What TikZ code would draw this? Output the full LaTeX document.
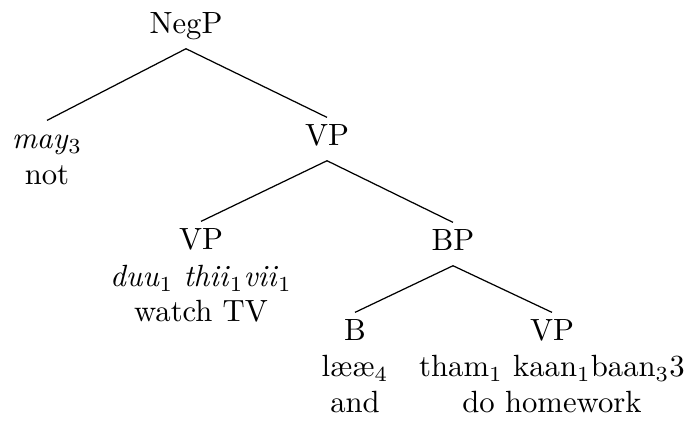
\documentclass[tikz,border=0pt]{standalone}
\begin{document}
\begin{tikzpicture}[x=0.3257pt,y=-0.3257pt,
  lab/.style={inner sep=0pt,text height=9.12pt,text depth=4.6pt,anchor=base},
  word/.style={inner sep=0pt,anchor=base},
  edge/.style={line width=0.4pt}]
\useasboundingbox (0,0) rectangle (689,422);
% labels
\node[lab] (negp) at (186,34) {NegP};
\node[lab] (may) at (47,149) {\textit{may}$_3$};
\node[word] (mayg) at (47,185) {not};
\node[lab] (vp1) at (327,146) {VP};
\node[lab] (vp2) at (201,250) {VP};
\node[word] (vp2w) at (201,287) {\textit{duu}$_1$ \textit{thii}$_1$\textit{vii}$_1$};
\node[word] (vp2g) at (201,322) {watch TV};
\node[lab] (bp) at (453,251) {BP};
\node[lab] (b) at (355,341) {B};
\node[word] (bw) at (355,377) {l\ae\ae$_4$};
\node[word] (bg) at (355,413) {and};
\node[lab] (vp3) at (552,341) {VP};
\node[word] (vp3w) at (552,377) {tham$_1$ kaan$_1$baan$_3$3};
\node[word] (vp3g) at (552,413) {do homework};
% edges
\draw[edge] (negp.south) -- (may.north);
\draw[edge] (negp.south) -- (vp1.north);
\draw[edge] (vp1.south) -- (vp2.north);
\draw[edge] (vp1.south) -- (bp.north);
\draw[edge] (bp.south) -- (b.north);
\draw[edge] (bp.south) -- (vp3.north);
\end{tikzpicture}
\end{document}
